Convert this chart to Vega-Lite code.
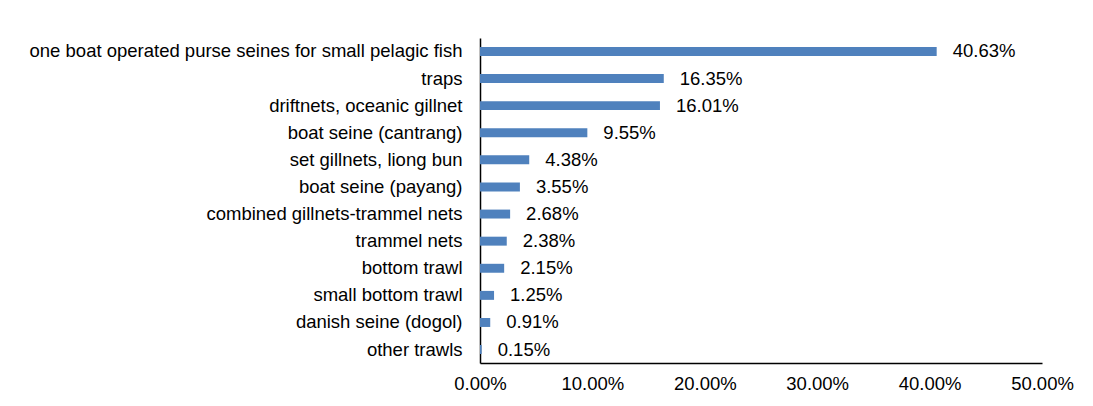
{
  "$schema": "https://vega.github.io/schema/vega-lite/v6.json",
  "autosize": {"type": "none"},
  "width": 562,
  "height": 325,
  "padding": {"left": 480, "top": 38, "right": 51, "bottom": 43},
  "background": "white",
  "config": {"view": {"stroke": null}, "font": "Liberation Sans"},
  "data": {"values": [
    {"gear": "one boat operated purse seines for small pelagic fish", "share": 0.4063},
    {"gear": "traps", "share": 0.1635},
    {"gear": "driftnets, oceanic gillnet", "share": 0.1601},
    {"gear": "boat seine (cantrang)", "share": 0.0955},
    {"gear": "set gillnets, liong bun", "share": 0.0438},
    {"gear": "boat seine (payang)", "share": 0.0355},
    {"gear": "combined gillnets-trammel nets ", "share": 0.0268},
    {"gear": "trammel nets", "share": 0.0238},
    {"gear": "bottom trawl", "share": 0.0215},
    {"gear": "small bottom trawl", "share": 0.0125},
    {"gear": "danish seine (dogol)", "share": 0.0091},
    {"gear": "other trawls", "share": 0.0015}
  ]},
  "encoding": {
    "y": {"field": "gear", "type": "nominal", "sort": null, "title": null,
      "scale": {"paddingInner": 0.67, "paddingOuter": 0.33},
      "axis": {"ticks": false, "domainColor": "#000000", "domainWidth": 1.5, "labelColor": "#000000", "labelFontSize": 18.5, "labelPadding": 18, "labelLimit": 500}},
    "x": {"field": "share", "type": "quantitative", "title": null,
      "scale": {"domain": [0, 0.5], "nice": false},
      "axis": {"format": ".2%", "values": [0, 0.1, 0.2, 0.3, 0.4, 0.5], "grid": false, "ticks": false, "domainColor": "#000000", "domainWidth": 1.5, "labelColor": "#000000", "labelFontSize": 18.5, "labelPadding": 11, "labelFlush": false}}
  },
  "layer": [
    {"mark": {"type": "bar", "color": "#4F81BD"}},
    {"mark": {"type": "text", "align": "left", "baseline": "middle", "dx": 16, "fontSize": 18.5, "color": "#000000"},
     "encoding": {"text": {"field": "share", "type": "quantitative", "format": ".2%"}}}
  ]
}
